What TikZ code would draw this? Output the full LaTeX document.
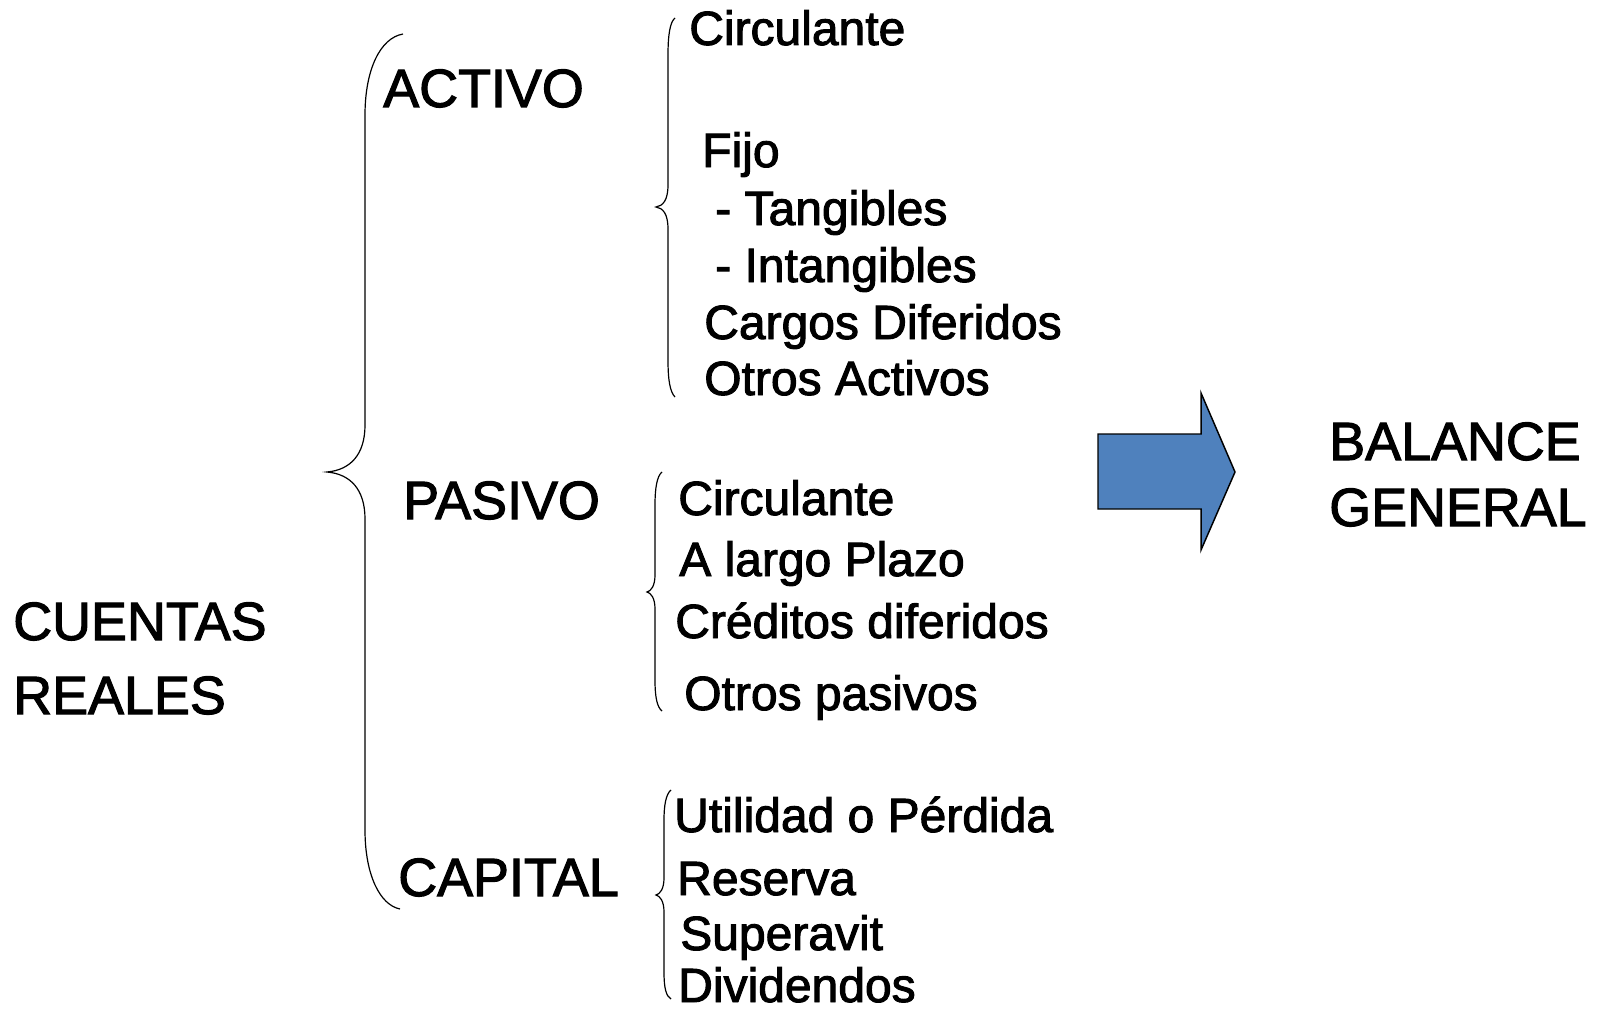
\documentclass[tikz,border=0pt]{standalone}
\usepackage{fontspec}
\setmainfont{Liberation Sans}[FakeBold=2]
\definecolor{arrowblue}{HTML}{4F81BD}
\begin{document}
\begin{tikzpicture}[x=0.75pt,y=-0.75pt,
  big/.style={anchor=base west,inner sep=0pt,font=\fontsize{40.4}{48}\selectfont},
  small/.style={anchor=base west,inner sep=0pt,font=\fontsize{36}{43}\selectfont},
  brace/.style={line width=0.9pt,black},
  bigarrow/.style={fill=arrowblue,draw=black,line width=1.1pt,line join=miter}]
\useasboundingbox (0,0) rectangle (1602,1013);

% main labels
\node[big] (cuentas) at (13,640) {CUENTAS};
\node[big] (reales) at (13,714) {REALES};
\node[big] (activo) at (383,107) {ACTIVO};
\node[big] (pasivo) at (403,519) {PASIVO};
\node[big] (capital) at (398,896) {CAPITAL};
\node[big] (balance) at (1329,460) {BALANCE};
\node[big] (general) at (1329,526) {GENERAL};

% activo items
\node[small] (a1) at (689,45) {Circulante};
\node[small] (a2) at (702,167) {Fijo};
\node[small] (a3) at (715,225) {- Tangibles};
\node[small] (a4) at (715,282) {- Intangibles};
\node[small] (a5) at (704,339) {Cargos Diferidos};
\node[small] (a6) at (704,395) {Otros Activos};

% pasivo items
\node[small] (p1) at (678,515) {Circulante};
\node[small] (p2) at (679,576) {A largo Plazo};
\node[small] (p3) at (675,638) {Créditos diferidos};
\node[small] (p4) at (684,710) {Otros pasivos};

% capital items
\node[small] (c1) at (674,832) {Utilidad o Pérdida};
\node[small] (c2) at (677,895) {Reserva};
\node[small] (c3) at (680,950) {Superavit};
\node[small] (c4) at (678,1002) {Dividendos};

% big brace
\draw[brace] (403,34) .. controls (380,38) and (365,70) .. (365,115) -- (365,425)
  .. controls (365,455) and (350,470) .. (327,472)
  .. controls (350,474) and (365,489) .. (365,519) -- (365,830)
  .. controls (365,875) and (380,905) .. (400,909);

% activo brace
\draw[brace] (675,18) .. controls (670,22) and (668,35) .. (668,55) -- (668,185)
  .. controls (668,200) and (663,206) .. (656,207)
  .. controls (663,208) and (668,214) .. (668,229) -- (668,360)
  .. controls (668,380) and (670,392) .. (675,397);

% pasivo brace
\draw[brace] (662,472) .. controls (657,476) and (655,488) .. (655,505) -- (655,575)
  .. controls (655,586) and (651,591) .. (647,592)
  .. controls (651,593) and (655,598) .. (655,609) -- (655,680)
  .. controls (655,697) and (657,707) .. (662,711);

% capital brace
\draw[brace] (671,790) .. controls (666,794) and (664,805) .. (664,820) -- (664,878)
  .. controls (664,889) and (660,894) .. (656,895)
  .. controls (660,896) and (664,901) .. (664,912) -- (664,972)
  .. controls (664,988) and (666,996) .. (671,999);

% block arrow
\draw[bigarrow] (1098,434) -- (1201,434) -- (1201,393) -- (1235,472) -- (1201,550)
  -- (1201,509) -- (1098,509) -- cycle;
\end{tikzpicture}
\end{document}
